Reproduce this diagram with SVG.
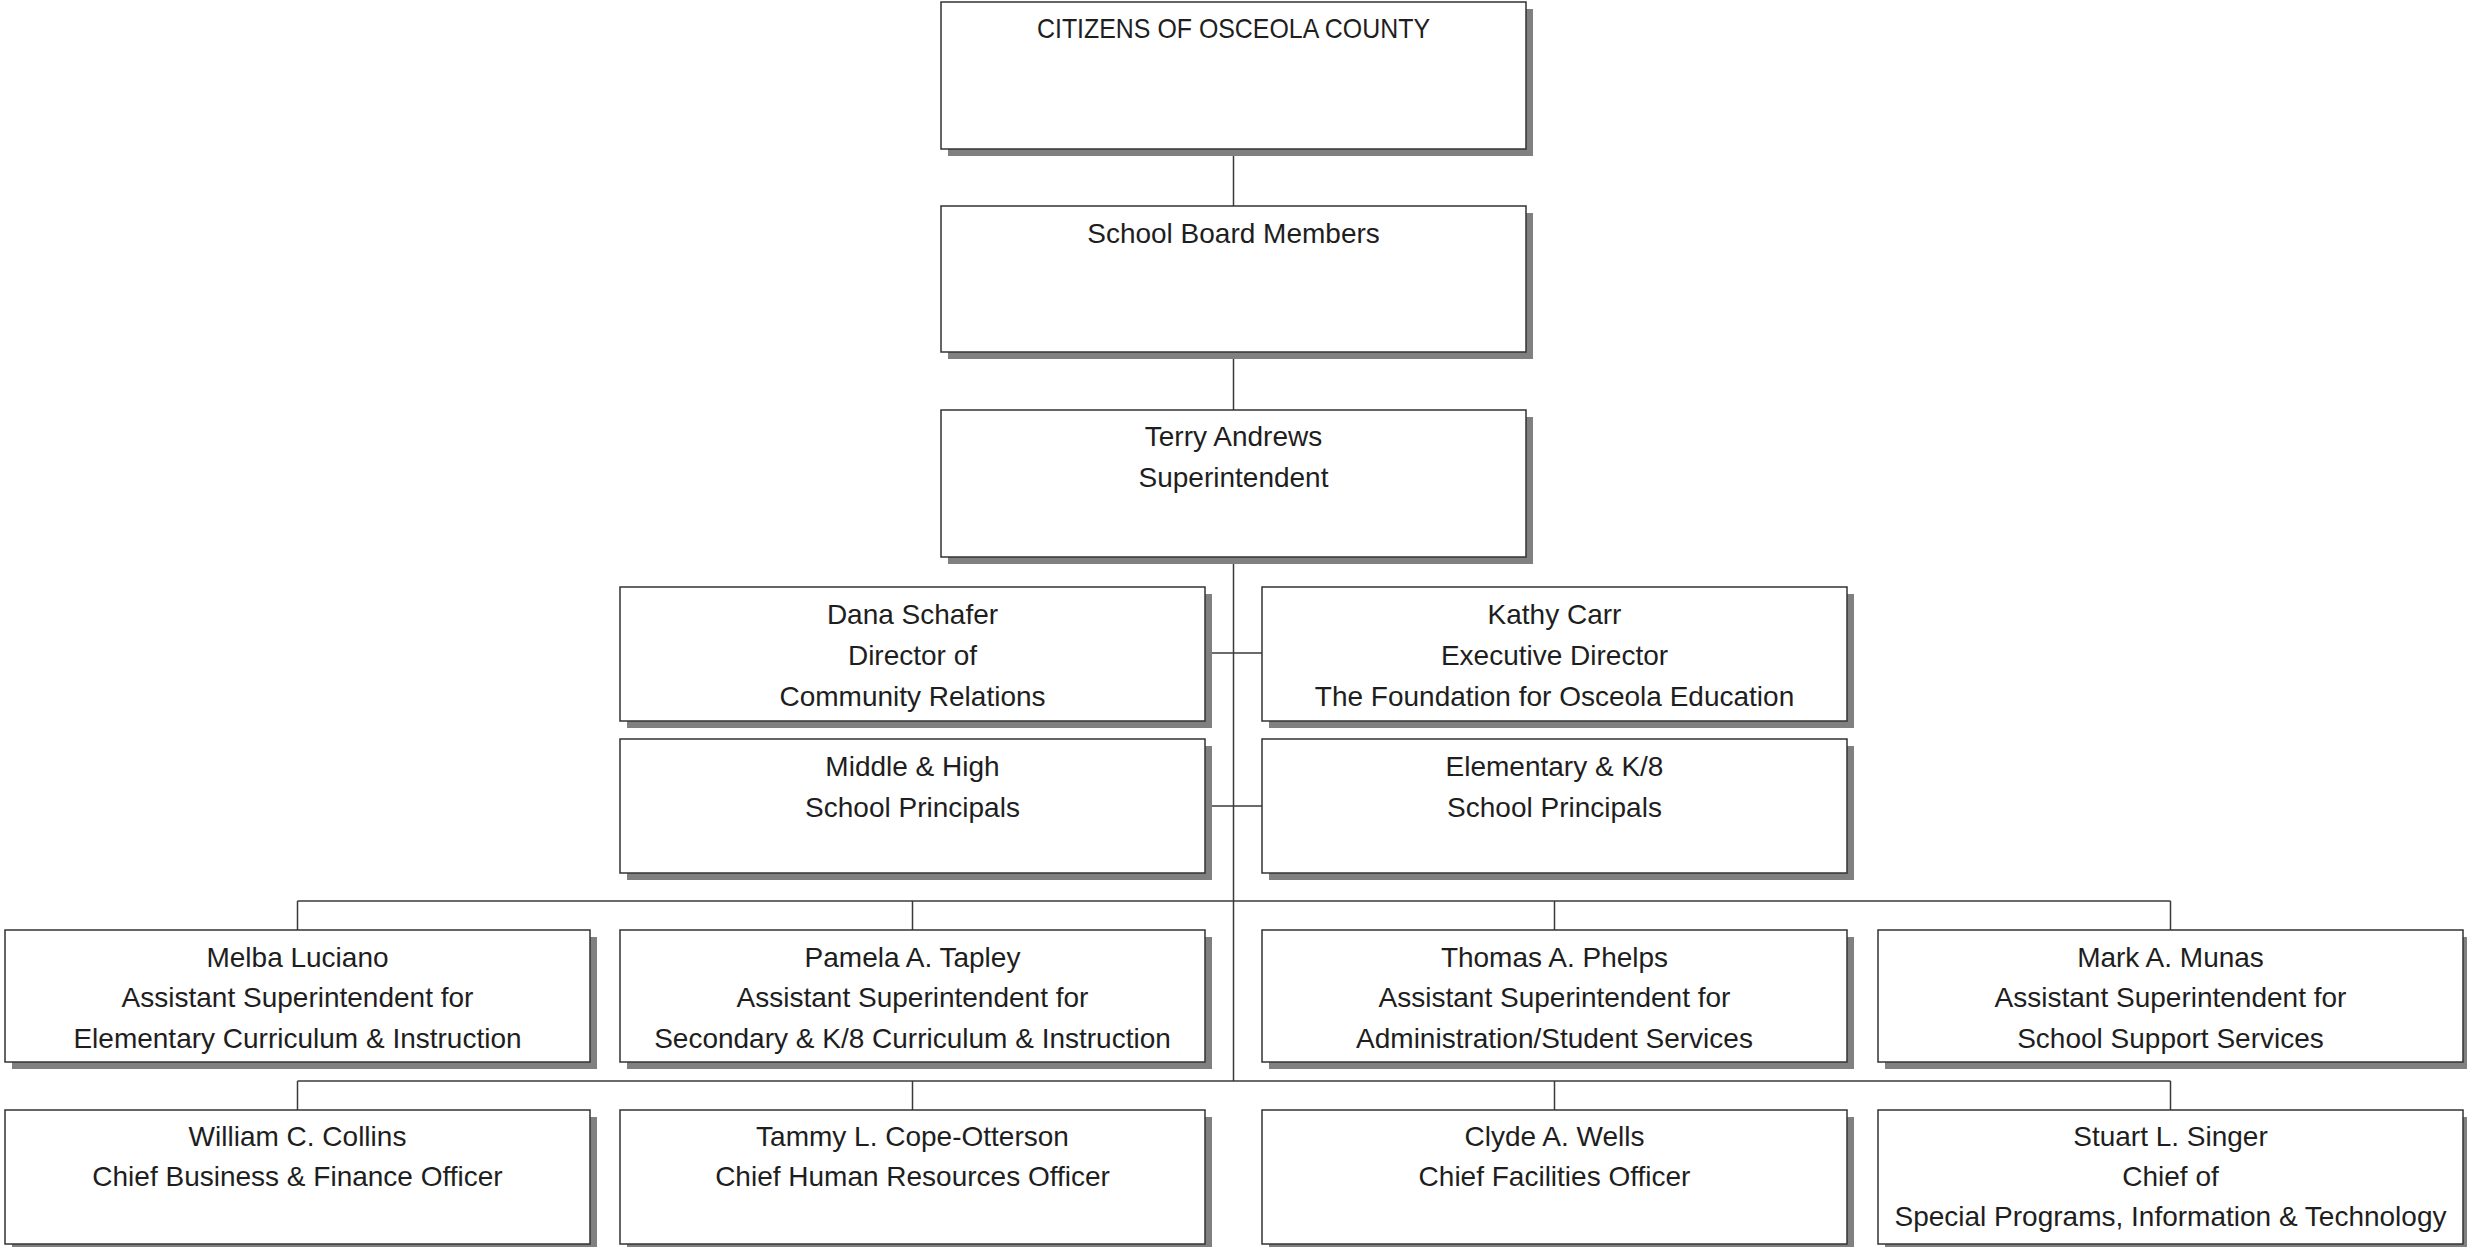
<svg xmlns="http://www.w3.org/2000/svg" width="2467" height="1247" viewBox="0 0 2467 1247">
<style>
.sh{fill:#808080;stroke:none}
.bx{fill:#ffffff;stroke:#333333;stroke-width:1.5}
.t{font-family:"Liberation Sans",Arial,sans-serif;font-size:28px;fill:#1e1e1e;text-anchor:middle}
.c{stroke:#3a3a3a;stroke-width:1.5;fill:none}
</style>
<rect x="0" y="0" width="2467" height="1247" fill="#ffffff"/>
<g id="connectors">
<line class="c" x1="1233.5" y1="149" x2="1233.5" y2="206"/>
<line class="c" x1="1233.5" y1="352" x2="1233.5" y2="410"/>
<line class="c" x1="1233.5" y1="557" x2="1233.5" y2="1081"/>
<line class="c" x1="1205" y1="653" x2="1262" y2="653"/>
<line class="c" x1="1205" y1="806" x2="1262" y2="806"/>
<line class="c" x1="297.5" y1="901" x2="2170.5" y2="901"/>
<line class="c" x1="297.5" y1="901" x2="297.5" y2="930"/>
<line class="c" x1="912.5" y1="901" x2="912.5" y2="930"/>
<line class="c" x1="1554.5" y1="901" x2="1554.5" y2="930"/>
<line class="c" x1="2170.5" y1="901" x2="2170.5" y2="930"/>
<line class="c" x1="297.5" y1="1081" x2="2170.5" y2="1081"/>
<line class="c" x1="297.5" y1="1081" x2="297.5" y2="1110"/>
<line class="c" x1="912.5" y1="1081" x2="912.5" y2="1110"/>
<line class="c" x1="1554.5" y1="1081" x2="1554.5" y2="1110"/>
<line class="c" x1="2170.5" y1="1081" x2="2170.5" y2="1110"/>
</g>
<g id="citizens">
<rect class="sh" x="948" y="9" width="585" height="147"/>
<rect class="bx" x="941" y="2" width="585" height="147"/>
<text class="t" x="1233.5" y="37.5" textLength="393" lengthAdjust="spacingAndGlyphs">CITIZENS OF OSCEOLA COUNTY</text>
</g>
<g id="school-board">
<rect class="sh" x="948" y="213" width="585" height="146"/>
<rect class="bx" x="941" y="206" width="585" height="146"/>
<text class="t" x="1233.5" y="242.5">School Board Members</text>
</g>
<g id="superintendent">
<rect class="sh" x="948" y="417" width="585" height="147"/>
<rect class="bx" x="941" y="410" width="585" height="147"/>
<text class="t" x="1233.5" y="446">Terry Andrews</text>
<text class="t" x="1233.5" y="487">Superintendent</text>
</g>
<g id="dana-schafer">
<rect class="sh" x="627" y="594" width="585" height="134"/>
<rect class="bx" x="620" y="587" width="585" height="134"/>
<text class="t" x="912.5" y="623.5">Dana Schafer</text>
<text class="t" x="912.5" y="664.5">Director of</text>
<text class="t" x="912.5" y="705.5">Community Relations</text>
</g>
<g id="kathy-carr">
<rect class="sh" x="1269" y="594" width="585" height="134"/>
<rect class="bx" x="1262" y="587" width="585" height="134"/>
<text class="t" x="1554.5" y="623.5">Kathy Carr</text>
<text class="t" x="1554.5" y="664.5">Executive Director</text>
<text class="t" x="1554.5" y="705.5">The Foundation for Osceola Education</text>
</g>
<g id="middle-high">
<rect class="sh" x="627" y="746" width="585" height="134"/>
<rect class="bx" x="620" y="739" width="585" height="134"/>
<text class="t" x="912.5" y="775.5">Middle &amp; High</text>
<text class="t" x="912.5" y="816.5">School Principals</text>
</g>
<g id="elementary-k8">
<rect class="sh" x="1269" y="746" width="585" height="134"/>
<rect class="bx" x="1262" y="739" width="585" height="134"/>
<text class="t" x="1554.5" y="775.5">Elementary &amp; K/8</text>
<text class="t" x="1554.5" y="816.5">School Principals</text>
</g>
<g id="melba-luciano">
<rect class="sh" x="12" y="937" width="585" height="132"/>
<rect class="bx" x="5" y="930" width="585" height="132"/>
<text class="t" x="297.5" y="966.5">Melba Luciano</text>
<text class="t" x="297.5" y="1007">Assistant Superintendent for</text>
<text class="t" x="297.5" y="1047.5">Elementary Curriculum &amp; Instruction</text>
</g>
<g id="pamela-tapley">
<rect class="sh" x="627" y="937" width="585" height="132"/>
<rect class="bx" x="620" y="930" width="585" height="132"/>
<text class="t" x="912.5" y="966.5">Pamela A. Tapley</text>
<text class="t" x="912.5" y="1007">Assistant Superintendent for</text>
<text class="t" x="912.5" y="1047.5">Secondary &amp; K/8 Curriculum &amp; Instruction</text>
</g>
<g id="thomas-phelps">
<rect class="sh" x="1269" y="937" width="585" height="132"/>
<rect class="bx" x="1262" y="930" width="585" height="132"/>
<text class="t" x="1554.5" y="966.5">Thomas A. Phelps</text>
<text class="t" x="1554.5" y="1007">Assistant Superintendent for</text>
<text class="t" x="1554.5" y="1047.5">Administration/Student Services</text>
</g>
<g id="mark-munas">
<rect class="sh" x="1885" y="937" width="585" height="132"/>
<rect class="bx" x="1878" y="930" width="585" height="132"/>
<text class="t" x="2170.5" y="966.5">Mark A. Munas</text>
<text class="t" x="2170.5" y="1007">Assistant Superintendent for</text>
<text class="t" x="2170.5" y="1047.5">School Support Services</text>
</g>
<g id="william-collins">
<rect class="sh" x="12" y="1117" width="585" height="134"/>
<rect class="bx" x="5" y="1110" width="585" height="134"/>
<text class="t" x="297.5" y="1146">William C. Collins</text>
<text class="t" x="297.5" y="1186">Chief Business &amp; Finance Officer</text>
</g>
<g id="tammy-cope-otterson">
<rect class="sh" x="627" y="1117" width="585" height="134"/>
<rect class="bx" x="620" y="1110" width="585" height="134"/>
<text class="t" x="912.5" y="1146">Tammy L. Cope-Otterson</text>
<text class="t" x="912.5" y="1186">Chief Human Resources Officer</text>
</g>
<g id="clyde-wells">
<rect class="sh" x="1269" y="1117" width="585" height="134"/>
<rect class="bx" x="1262" y="1110" width="585" height="134"/>
<text class="t" x="1554.5" y="1146">Clyde A. Wells</text>
<text class="t" x="1554.5" y="1186">Chief Facilities Officer</text>
</g>
<g id="stuart-singer">
<rect class="sh" x="1885" y="1117" width="585" height="134"/>
<rect class="bx" x="1878" y="1110" width="585" height="134"/>
<text class="t" x="2170.5" y="1146">Stuart L. Singer</text>
<text class="t" x="2170.5" y="1186">Chief of</text>
<text class="t" x="2170.5" y="1226">Special Programs, Information &amp; Technology</text>
</g>
</svg>
